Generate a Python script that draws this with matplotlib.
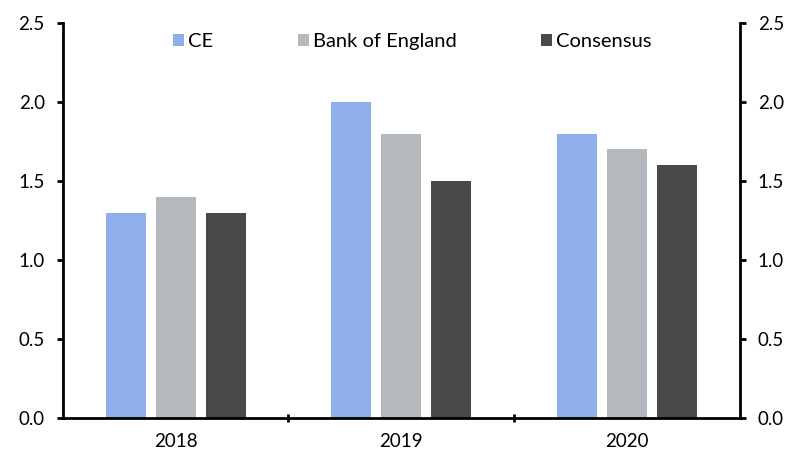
import matplotlib.pyplot as plt
import numpy as np

# Data
years = ['2018', '2019', '2020']
ce = [1.3, 2.0, 1.8]
boe = [1.4, 1.8, 1.7]
consensus = [1.3, 1.5, 1.6]

series_names = ['CE', 'Bank of England', 'Consensus']
colors = ['#8fafea', '#b3b9bd', '#48494b']

plt.rcParams['font.family'] = ['Lato', 'DejaVu Sans']

fig = plt.figure(figsize=(7.95, 4.58), dpi=100)
ax = fig.add_axes([0.079, 0.0873, 0.8516, 0.8624])

x = np.arange(len(years))
width = 0.177
step = 0.2216
for i, (vals, name, col) in enumerate(zip([ce, boe, consensus], series_names, colors)):
    ax.bar(x + (i - 1) * step, vals, width, color=col, label=name)

ax.set_xlim(-0.5, 2.5)
ax.set_ylim(0, 2.5)
ax.set_yticks(np.arange(0, 2.51, 0.5))
ax.yaxis.set_major_formatter(plt.FormatStrFormatter('%.1f'))

ax.set_xticks(x)
ax.set_xticklabels(years)
ax.set_xticks([0.5, 1.5], minor=True)
ax.tick_params(axis='x', which='major', length=0, labelsize=13.5, pad=11)
ax.tick_params(axis='x', which='minor', length=6, width=2, direction='inout')

ax.tick_params(axis='y', which='major', length=4, width=2, direction='out',
               labelsize=13.5, pad=9, right=True, labelright=True)

ax.spines['top'].set_visible(False)
for s in ['left', 'right', 'bottom']:
    ax.spines[s].set_linewidth(2)

ax.legend(loc='center', bbox_to_anchor=(0.516, 0.953), ncol=3, frameon=False,
          fontsize=14.5, handlelength=0.55, handleheight=0.55, handletextpad=0.2,
          columnspacing=4.2, borderpad=0, borderaxespad=0)

fig.savefig('out.png', dpi=100)
